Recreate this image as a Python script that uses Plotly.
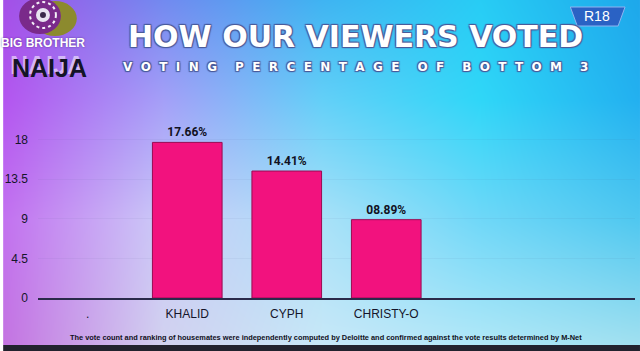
import base64
import struct
import zlib

import numpy as np
import plotly.graph_objects as go

# ---------------- data ----------------
categories = [".", "KHALID", "CYPH", "CHRISTY-O"]
vote_pct = [None, 17.66, 14.41, 8.89]
value_labels = ["", "17.66%", "14.41%", "08.89%"]
y_ticks = [0, 4.5, 9, 13.5, 18]
y_tick_labels = ["0", "4.5", "9", "13.5", "18"]

title_text = "HOW OUR VIEWERS VOTED"
subtitle_text = "VOTING PERCENTAGE OF BOTTOM 3"
footnote_text = ("The vote count and ranking of housemates were independently computed by "
                 "Deloitte and confirmed against the vote results determined by M-Net")

# ---------------- geometry ----------------
W, H = 640, 351
ML, MR, MT, MB = 35, 5, 135, 53
PW, PH = W - ML - MR, H - MT - MB


def px(x):
    return (x - ML) / PW


def py(y):
    return (H - MB - y) / PH


# ---------------- background gradient image ----------------
gx = [0, 160, 320, 480, 640]
gy = [0, 100, 220, 343]
grid = np.array([
    [(165, 80, 232), (115, 138, 240), (64, 180, 242), (40, 205, 245), (30, 168, 235)],
    [(180, 86, 240), (165, 160, 248), (100, 208, 248), (48, 215, 248), (35, 176, 240)],
    [(195, 114, 240), (204, 204, 248), (170, 226, 248), (112, 216, 248), (80, 200, 240)],
    [(196, 116, 226), (210, 210, 240), (200, 232, 248), (176, 232, 248), (160, 224, 240)],
], dtype=float)

xs = np.arange(W)
ys = np.arange(H)
img = np.zeros((H, W, 3), dtype=float)
for c in range(3):
    rows = np.array([np.interp(xs, gx, grid[r, :, c]) for r in range(len(gy))])
    for i in range(W):
        img[:, i, c] = np.interp(ys, gy, rows[:, i])
img[345:, :, :] = (34, 34, 46)
img = np.clip(img, 0, 255).astype(np.uint8)


def to_png_uri(a):
    h, w, _ = a.shape
    raw = b"".join(b"\x00" + a[r].tobytes() for r in range(h))

    def chunk(tag, data):
        return (struct.pack(">I", len(data)) + tag + data +
                struct.pack(">I", zlib.crc32(tag + data) & 0xFFFFFFFF))

    png = (b"\x89PNG\r\n\x1a\n" +
           chunk(b"IHDR", struct.pack(">IIBBBBB", w, h, 8, 2, 0, 0, 0)) +
           chunk(b"IDAT", zlib.compress(raw, 9)) +
           chunk(b"IEND", b""))
    return "data:image/png;base64," + base64.b64encode(png).decode()


# ---------------- figure ----------------
fig = go.Figure()
fig.add_trace(go.Bar(
    x=categories,
    y=vote_pct,
    text=value_labels,
    textposition="outside",
    cliponaxis=False,
    width=0.7,
    marker=dict(color="#f2127e", line=dict(color="#9a0a52", width=1)),
    textfont=dict(family="Liberation Sans Narrow, Roboto, Arial", size=12,
                  color="#111122", weight="bold"),
    hoverinfo="skip",
))

fig.update_layout(
    width=W, height=H,
    margin=dict(l=ML, r=MR, t=MT, b=MB),
    paper_bgcolor="rgba(0,0,0,0)",
    plot_bgcolor="rgba(0,0,0,0)",
    showlegend=False,
    bargap=0.3,
    font=dict(family="Liberation Sans, Arial", color="#1a1a2e"),
    images=[dict(
        source=to_png_uri(img), xref="paper", yref="paper",
        x=px(0), y=py(0), sizex=W / PW, sizey=H / PH,
        xanchor="left", yanchor="top", sizing="stretch", layer="below",
    )],
    xaxis=dict(
        type="category", range=[-0.5, 5.5], showgrid=False,
        showline=True, linecolor="#2a2a4a", linewidth=1.5,
        tickfont=dict(size=12, color="#15152a"), ticks="", ticklabelstandoff=4,
        fixedrange=True,
    ),
    yaxis=dict(
        range=[0, 18.5], tickvals=y_ticks, ticktext=y_tick_labels,
        showgrid=True, gridcolor="rgba(70,80,130,0.06)", gridwidth=1,
        zeroline=False, showline=False,
        tickfont=dict(size=12, color="#15152a"), ticklabelstandoff=9,
        fixedrange=True,
    ),
)

spaced_subtitle = "\u2003\u2002".join("\u2002\u2009".join(w) for w in subtitle_text.split(" "))
title_shadow = "1px 1px 1px #4a5a9a, -1px -1px 1px #4a5a9a, 1px -1px 1px #4a5a9a, -1px 1px 1px #4a5a9a"

annotations = [
    dict(text=title_text, x=px(354), y=py(37), xref="paper", yref="paper",
         showarrow=False, xanchor="center", yanchor="middle",
         font=dict(family="DejaVu Sans", size=30, color="#ffffff", weight="bold",
                   shadow=title_shadow)),
    dict(text=spaced_subtitle,
         x=px(354), y=py(67), xref="paper", yref="paper",
         showarrow=False, xanchor="center", yanchor="middle",
         font=dict(family="DejaVu Sans", size=12, color="#ffffff", weight="bold",
                   shadow=title_shadow)),
    dict(text=footnote_text, x=px(324), y=py(337), xref="paper", yref="paper",
         showarrow=False, xanchor="center", yanchor="middle",
         font=dict(family="Liberation Sans Narrow, Liberation Sans", size=7.4,
                   color="#111122", weight="bold")),
    # logo text
    dict(text="BIG BROTHER", x=px(40), y=py(43), xref="paper", yref="paper",
         showarrow=False, xanchor="center", yanchor="middle",
         font=dict(family="Liberation Sans", size=12, color="#ffffff", weight="bold",
                   shadow="0px 0px 2px rgba(40,20,80,0.6)")),
    dict(text="NAIJA", x=px(47), y=py(68), xref="paper", yref="paper",
         showarrow=False, xanchor="center", yanchor="middle",
         font=dict(family="Liberation Sans", size=25, color="#141428", weight="bold",
                   shadow="-2px -3px 0px rgba(255,255,255,0.55)")),
    dict(text="R18", x=px(597), y=py(16), xref="paper", yref="paper",
         showarrow=False, xanchor="center", yanchor="middle",
         font=dict(family="Liberation Sans", size=14, color="#ffffff")),
]
fig.update_layout(annotations=annotations)

shapes = [
    # logo: eye mark
    dict(type="circle", xref="paper", yref="paper",
         x0=px(30), x1=px(74), y0=py(36), y1=py(1),
         fillcolor="#8c8a2e", line=dict(width=0), layer="above"),
    dict(type="circle", xref="paper", yref="paper",
         x0=px(16), x1=px(58), y0=py(34), y1=py(-2),
         fillcolor="#7a2a8a", line=dict(width=0), layer="above"),
    dict(type="circle", xref="paper", yref="paper",
         x0=px(27), x1=px(53), y0=py(28), y1=py(2),
         fillcolor="rgba(0,0,0,0)", line=dict(color="#f4f0f8", width=2, dash="dot"),
         layer="above"),
    dict(type="circle", xref="paper", yref="paper",
         x0=px(33), x1=px(47), y0=py(22), y1=py(8),
         fillcolor="#e8e4f0", line=dict(width=0), layer="above"),
    dict(type="circle", xref="paper", yref="paper",
         x0=px(37), x1=px(43), y0=py(18), y1=py(12),
         fillcolor="#3a2a4a", line=dict(width=0), layer="above"),
    # R18 badge
    dict(type="path", xref="paper", yref="paper",
         path="M {} {} L {} {} L {} {} L {} {} Z".format(
             px(570), py(7), px(625), py(7), px(618), py(26), px(577), py(26)),
         fillcolor="#2a62c4", line=dict(color="#8fb4f0", width=1), layer="above"),
]
fig.update_layout(shapes=shapes)

fig.write_html("out.html")
